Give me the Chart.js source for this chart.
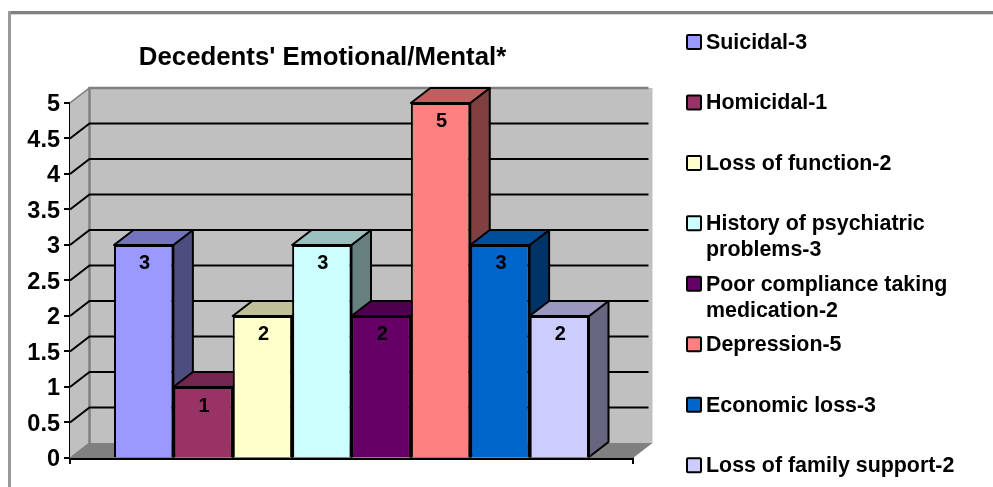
<!DOCTYPE html>
<html><head><meta charset="utf-8">
<style>html,body{margin:0;padding:0;background:#fff}#w{width:993px;height:487px;position:relative}</style>
<script src="https://cdn.jsdelivr.net/npm/chart.js@4"></script>
</head><body><div id="w"><canvas id="c" width="993" height="487"></canvas></div>
<script>
const titleText = "Decedents' Emotional/Mental*";
const seriesLabels = ["Suicidal-3","Homicidal-1","Loss of function-2","History of psychiatric problems-3","Poor compliance taking medication-2","Depression-5","Economic loss-3","Loss of family support-2"];
const legendLines = [["Suicidal-3"],["Homicidal-1"],["Loss of function-2"],["History of psychiatric","problems-3"],["Poor compliance taking","medication-2"],["Depression-5"],["Economic loss-3"],["Loss of family support-2"]];
const seriesValues = [3,1,2,3,2,5,3,2];
const frontColors = ["#9999ff","#993366","#ffffcc","#ccffff","#660066","#ff8080","#0066cc","#ccccff"];
const capColors = ["#7373bf","#73264d","#bfbf99","#99bfbf","#4d004d","#bf6060","#004d99","#9999bf"];
const sideColors = ["#4d4d80","#4d1a33","#808066","#668080","#330033","#804040","#003366","#666680"];
const FONT = '"Liberation Sans", Arial, sans-serif';
const DX = 19.5, DY = 15;

function poly(ctx, pts, fill, stroke, lw){
  ctx.beginPath();
  pts.forEach((p,i)=> i? ctx.lineTo(p[0],p[1]) : ctx.moveTo(p[0],p[1]));
  ctx.closePath();
  if(fill){ctx.fillStyle=fill;ctx.fill();}
  if(stroke){ctx.strokeStyle=stroke;ctx.lineWidth=lw;ctx.lineJoin='round';ctx.stroke();}
}
const scene = {
  id:'scene',
  afterLayout(chart){
    const t = chart.titleBlock;
    t.left = 0; t.right = 645; t.width = 645; t.top = 42; t.bottom = 74;
  },
  beforeDraw(chart){
    const ctx = chart.ctx;
    ctx.save();
    ctx.fillStyle='#fff';ctx.fillRect(0,0,chart.width,chart.height);
    ctx.fillStyle='#d8d8d8';ctx.fillRect(9,14,984,1);
    ctx.fillStyle='#808080';ctx.fillRect(9,11,984,3);
    ctx.fillStyle='#999999';ctx.fillRect(8,11,3,476);
    ctx.restore();
  },
  beforeDatasetsDraw(chart){
    const ctx = chart.ctx, a = chart.chartArea, y = chart.scales.y;
    const L=a.left,R=a.right,T=a.top,B=a.bottom;
    ctx.save();
    poly(ctx,[[L+DX,T-DY],[R+DX,T-DY],[R+DX,B-DY],[L+DX,B-DY]],'#c0c0c0');
    poly(ctx,[[L,T],[L+DX,T-DY],[L+DX,B-DY],[L,B]],'#c0c0c0');
    poly(ctx,[[L,B],[L+DX,B-DY],[R+DX,B-DY],[R,B]],'#808080');
    ctx.strokeStyle='#808080';ctx.lineWidth=2.5;
    ctx.beginPath();ctx.moveTo(L+DX,B-DY);ctx.lineTo(L+DX,T-DY);ctx.lineTo(R+DX-4,T-DY);ctx.stroke();
    ctx.lineWidth=1.5;
    ctx.beginPath();ctx.moveTo(L,T);ctx.lineTo(L+DX,T-DY);ctx.moveTo(L,B);ctx.lineTo(L+DX,B-DY);ctx.stroke();
    ctx.strokeStyle='#000';ctx.lineWidth=2;
    y.ticks.forEach(t=>{
      if(t.value===0||t.value===5) return;
      const p=y.getPixelForValue(t.value);
      ctx.beginPath();ctx.moveTo(L,p);ctx.lineTo(L+DX,p-DY);ctx.lineTo(R+DX-4,p-DY);ctx.stroke();
    });
    chart.data.datasets.forEach((d,i)=>{
      const b=chart.getDatasetMeta(i).data[0];
      const l=b.x-b.width/2,r=b.x+b.width/2,t=b.y,bot=b.base;
      poly(ctx,[[r,t],[r+DX,t-DY],[r+DX,bot-DY],[r,bot]],sideColors[i],'#000',2);
      poly(ctx,[[l,t],[l+DX,t-DY],[r+DX,t-DY],[r,t]],capColors[i],'#000',2);
    });
    ctx.restore();
  },
  afterDatasetsDraw(chart){
    const ctx = chart.ctx;
    ctx.save();
    ctx.fillStyle='#000';ctx.font='bold 20px '+FONT;ctx.textAlign='center';ctx.textBaseline='middle';
    chart.data.datasets.forEach((d,i)=>{
      const b=chart.getDatasetMeta(i).data[0];
      ctx.fillText(String(d.data[0]),b.x+1,b.y+19);
    });
    ctx.font='bold 21.4px '+FONT;ctx.textAlign='left';
    legendLines.forEach((lines,i)=>{
      const yy=42.5+60.45*i;
      ctx.fillStyle=frontColors[i];ctx.strokeStyle='#000';ctx.lineWidth=2;
      ctx.beginPath();ctx.roundRect(687,yy-7.5,14,14,1);ctx.fill();ctx.stroke();
      ctx.fillStyle='#000';
      lines.forEach((s,k)=>ctx.fillText(s,706,yy+0.5+k*26));
    });
    ctx.restore();
  }
};
new Chart(document.getElementById('c'),{
  type:'bar',
  data:{labels:[''],datasets:seriesLabels.map((l,i)=>({label:l,data:[seriesValues[i]],backgroundColor:frontColors[i],borderColor:'#000',borderWidth:2}))},
  plugins:[scene],
  options:{
    responsive:false,animation:false,devicePixelRatio:1,
    layout:{padding:{left:0,top:72,right:360,bottom:0}},
    datasets:{bar:{barPercentage:1,categoryPercentage:0.8437}},
    plugins:{
      legend:{display:false},tooltip:{enabled:false},
      title:{display:true,text:titleText,color:'#000',font:{family:FONT,size:25.8,weight:'bold',lineHeight:1.2},padding:0}
    },
    scales:{
      x:{afterFit(s){s.height=29;},grid:{drawOnChartArea:false,color:'#000',tickColor:'#000',tickLength:6,lineWidth:2},border:{color:'#000',width:3},ticks:{display:false}},
      y:{min:0,max:5,afterFit(s){s.width=70;},
         ticks:{stepSize:0.5,color:'#000',padding:4,labelOffset:2,font:{family:FONT,size:23.5,weight:'bold'},callback:v=>String(v)},
         grid:{drawOnChartArea:false,color:'#000',tickColor:'#000',tickLength:6,lineWidth:2},border:{color:'#000',width:2}}
    }
  }
});
</script></body></html>
